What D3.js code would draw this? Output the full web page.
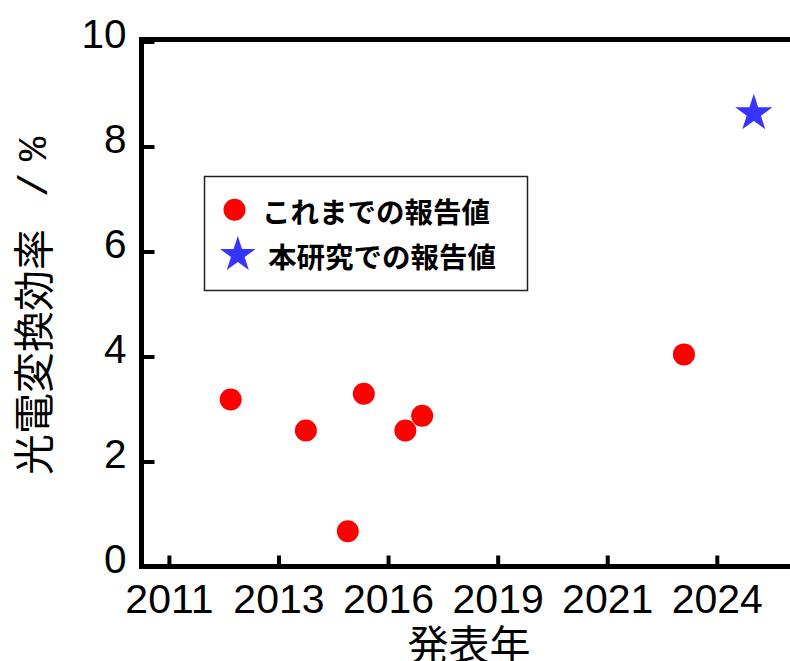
<!DOCTYPE html>
<html>
<head>
<meta charset="utf-8">
<script src="https://cdn.jsdelivr.net/npm/d3@7"></script>
<style>
  html, body { margin: 0; padding: 0; background: #fff; }
  svg { display: block; }
</style>
</head>
<body>
<svg id="chart" width="790" height="661"></svg>
<script>
// ---- data ----
const prevYears  = [2012.17, 2014.00, 2015.02, 2015.41, 2016.42, 2016.83, 2023.20];
const prevValues = [3.18, 2.59, 0.67, 3.29, 2.59, 2.87, 4.04];
const thisYears  = [2024.90];
const thisValues = [8.63];
const xTickValues = [2010.667, 2013.333, 2016.0, 2018.667, 2021.333, 2024.0];
const xTickLabels = ["2011", "2013", "2016", "2019", "2021", "2024"];
const yTickValues = [0, 2, 4, 6, 8, 10];
const yTickLabels = ["0", "2", "4", "6", "8", "10"];
const legendLabels = ["これまでの報告値", "本研究での報告値"];
const xTitle = "発表年";
const yTitleMain = "光電変換効率";
const yTitleUnit = ["/", "%"];

// ---- layout ----
const svg = d3.select("#chart");
const L = 141.5, R = 799, T = 41.5, B = 566.5;
const x = d3.scaleLinear().domain([2010, 2026]).range([L, R]);
const y = d3.scaleLinear().domain([0, 10]).range([B, T]);
const latin = "'Liberation Sans', Arial, sans-serif";
const mono = "'Liberation Mono', 'DejaVu Sans Mono', monospace";
const cjk = "'Noto Sans CJK JP', 'Noto Sans', sans-serif";
const red = "#ff0000", blue = "#3535ff";

// x axis (ticks inward/up)
const xAxis = svg.append("g").attr("transform", `translate(0,${B})`)
  .call(d3.axisBottom(x).tickValues(xTickValues)
    .tickFormat((d, i) => xTickLabels[i]).tickSizeInner(-11).tickSizeOuter(0).tickPadding(0));
xAxis.select(".domain").remove();
xAxis.selectAll(".tick line").attr("stroke", "#000").attr("stroke-width", 4);
xAxis.selectAll(".tick text").attr("y", 46.5).attr("dy", null)
  .attr("font-family", latin).attr("font-size", 41).attr("fill", "#000");

// y axis (ticks inward/right)
const yAxis = svg.append("g").attr("transform", `translate(${L},0)`)
  .call(d3.axisLeft(y).tickValues(yTickValues)
    .tickFormat((d, i) => yTickLabels[i]).tickSizeInner(-13).tickSizeOuter(0).tickPadding(0));
yAxis.select(".domain").remove();
yAxis.selectAll(".tick line").attr("stroke", "#000").attr("stroke-width", 4);
yAxis.selectAll(".tick text").attr("x", -15).attr("dy", null).attr("y", 6)
  .attr("text-anchor", "end")
  .attr("font-family", latin).attr("font-size", 40.5).attr("fill", "#000");

// frame (left, top, bottom; right side beyond canvas)
svg.append("path")
  .attr("d", `M${R + 20},${T - 2} H${L} V${B} H${R + 20}`)
  .attr("fill", "none").attr("stroke", "#000").attr("stroke-width", 5)
  .attr("stroke-linejoin", "miter");

// points
svg.append("g").selectAll("circle")
  .data(prevYears.map((d, i) => ({ x: d, y: prevValues[i] })))
  .join("circle")
  .attr("cx", d => x(d.x)).attr("cy", d => y(d.y)).attr("r", 11)
  .attr("fill", red);

const star = d3.symbol(d3.symbolStar, 19.6 * 19.6 / 0.8908130915292852);
svg.append("g").selectAll("path")
  .data(thisYears.map((d, i) => ({ x: d, y: thisValues[i] })))
  .join("path")
  .attr("d", star)
  .attr("transform", d => `translate(${x(d.x)},${y(d.y)})`)
  .attr("fill", blue);

// legend
const lg = svg.append("g");
lg.append("rect").attr("x", 204.5).attr("y", 176.5).attr("width", 323).attr("height", 114)
  .attr("fill", "#fff").attr("stroke", "#222").attr("stroke-width", 1.5);
lg.append("circle").attr("cx", 234.5).attr("cy", 209.7).attr("r", 11).attr("fill", red);
lg.append("path").attr("d", d3.symbol(d3.symbolStar, 18.8 * 18.8 / 0.8908130915292852)())
  .attr("transform", "translate(237.8,254.8)").attr("fill", blue);
lg.append("text").attr("x", 262).attr("y", 210).attr("dominant-baseline", "central")
  .attr("font-family", cjk).attr("font-weight", "bold").attr("font-size", 28.5)
  .attr("fill", "#000").text(legendLabels[0]);
lg.append("text").attr("x", 268).attr("y", 255).attr("dominant-baseline", "central")
  .attr("font-family", cjk).attr("font-weight", "bold").attr("font-size", 28.5)
  .attr("fill", "#000").text(legendLabels[1]);

// axis titles
svg.append("text").attr("x", 469).attr("y", 642).attr("text-anchor", "middle")
  .attr("dominant-baseline", "central")
  .attr("font-family", cjk).attr("font-size", 41).attr("fill", "#000").text(xTitle);

const yt = svg.append("text").attr("transform", "translate(49,473) rotate(-90)")
  .attr("fill", "#000");
yt.append("tspan").attr("x", -2).attr("y", 0)
  .attr("font-family", cjk).attr("font-size", 41).text(yTitleMain);
yt.append("tspan").attr("x", 275.7).attr("y", -2.5)
  .attr("font-family", mono).attr("font-size", 41).text(yTitleUnit[0]);
yt.append("tspan").attr("x", 311.7).attr("y", -3.3)
  .attr("font-family", mono).attr("font-size", 41).text(yTitleUnit[1]);
</script>
</body>
</html>
